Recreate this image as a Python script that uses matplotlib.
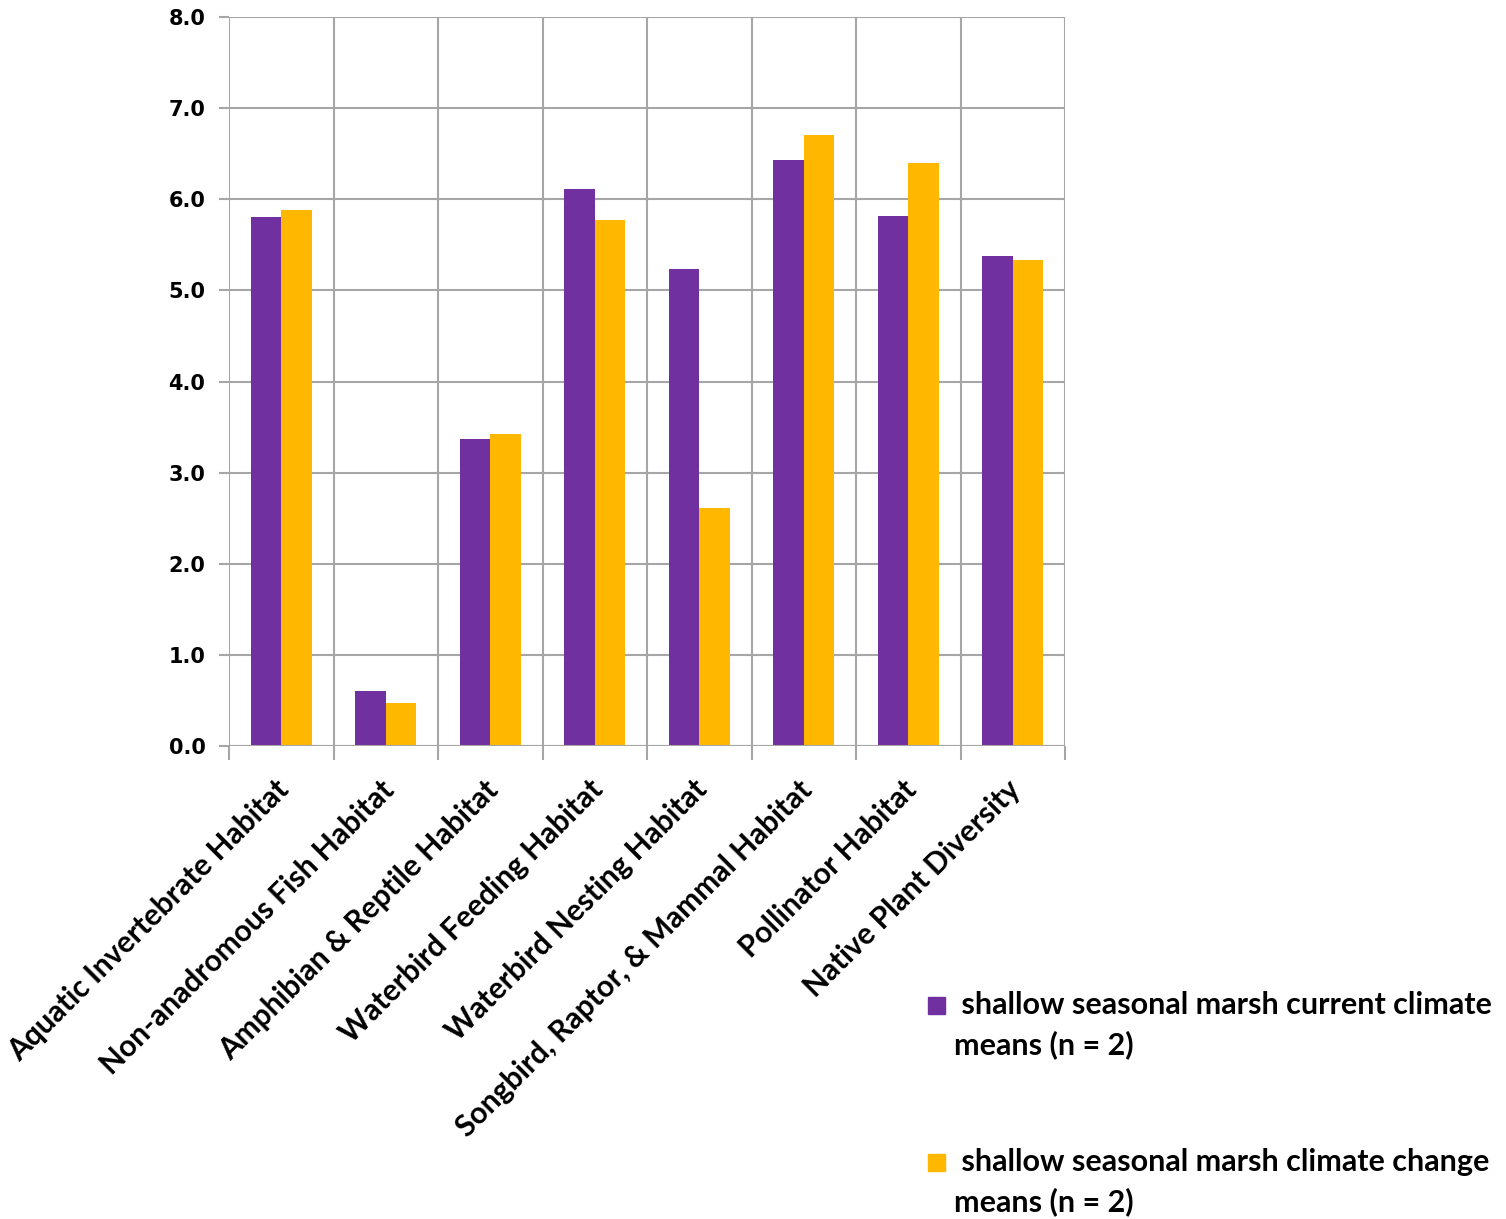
import numpy as np
import matplotlib.pyplot as plt
from matplotlib.patches import Rectangle

categories = ["Aquatic Invertebrate Habitat", "Non-anadromous Fish Habitat",
              "Amphibian & Reptile Habitat", "Waterbird Feeding Habitat",
              "Waterbird Nesting Habitat", "Songbird, Raptor, & Mammal Habitat",
              "Pollinator Habitat", "Native Plant Diversity"]
current = [5.81, 0.60, 3.37, 6.11, 5.24, 6.43, 5.82, 5.38]
change = [5.88, 0.47, 3.42, 5.77, 2.61, 6.71, 6.40, 5.33]
series_names = [" shallow seasonal marsh current climate\nmeans (n = 2)",
                " shallow seasonal marsh climate change\nmeans (n = 2)"]

purple = "#7030A0"
orange = "#FFB700"
grid_c = "#A6A6A6"

fig = plt.figure(figsize=(15.06, 12.19), dpi=100)
ax = fig.add_axes([229 / 1506, 1 - 746 / 1219, (1065 - 229) / 1506, (746 - 17) / 1219])

x = np.arange(len(categories))
w = 0.29
ax.bar(x - w / 2, current, w, color=purple, zorder=3)
ax.bar(x + w / 2, change, w, color=orange, zorder=3)

ax.set_xlim(-0.5, len(categories) - 0.5)
ax.set_ylim(0, 8)
ax.set_yticks(np.arange(0, 8.1, 1.0))
ax.set_yticklabels([f"{v:.1f}" for v in np.arange(0, 8.1, 1.0)],
                   fontfamily="DejaVu Sans", fontweight="bold", fontsize=15)

# category boundaries as ticks/grid
ax.set_xticks(np.arange(-0.5, len(categories), 1.0))
ax.set_xticklabels([])
ax.tick_params(axis="x", length=10, width=1.5, color=grid_c)
ax.tick_params(axis="y", length=7, width=1.5, color=grid_c, pad=10)
ax.grid(True, color=grid_c, linewidth=1.5, zorder=0)
for s in ax.spines.values():
    s.set_visible(False)
ax.axhline(0, color=grid_c, linewidth=1.5, zorder=4)

for i, lab in enumerate(categories):
    ax.text(i - 0.06, -0.32, lab, rotation=45, ha="right", va="top",
            rotation_mode="anchor", fontfamily="Lato", fontweight="bold",
            fontsize=21.5, clip_on=False)

# legend drawn by hand so the swatch lines up with the first text line
for k, (name, col) in enumerate(zip(series_names, [purple, orange])):
    y_top = 997 + k * 157
    fig.add_artist(Rectangle((928 / 1506, 1 - (y_top + 17) / 1219), 17 / 1506, 17 / 1219,
                             transform=fig.transFigure, color=col))
    fig.text(954 / 1506, 1 - (y_top - 6) / 1219, name, ha="left", va="top",
             fontfamily="Lato", fontweight="bold", fontsize=22, linespacing=1.45)

fig.savefig("out.png", dpi=100)
